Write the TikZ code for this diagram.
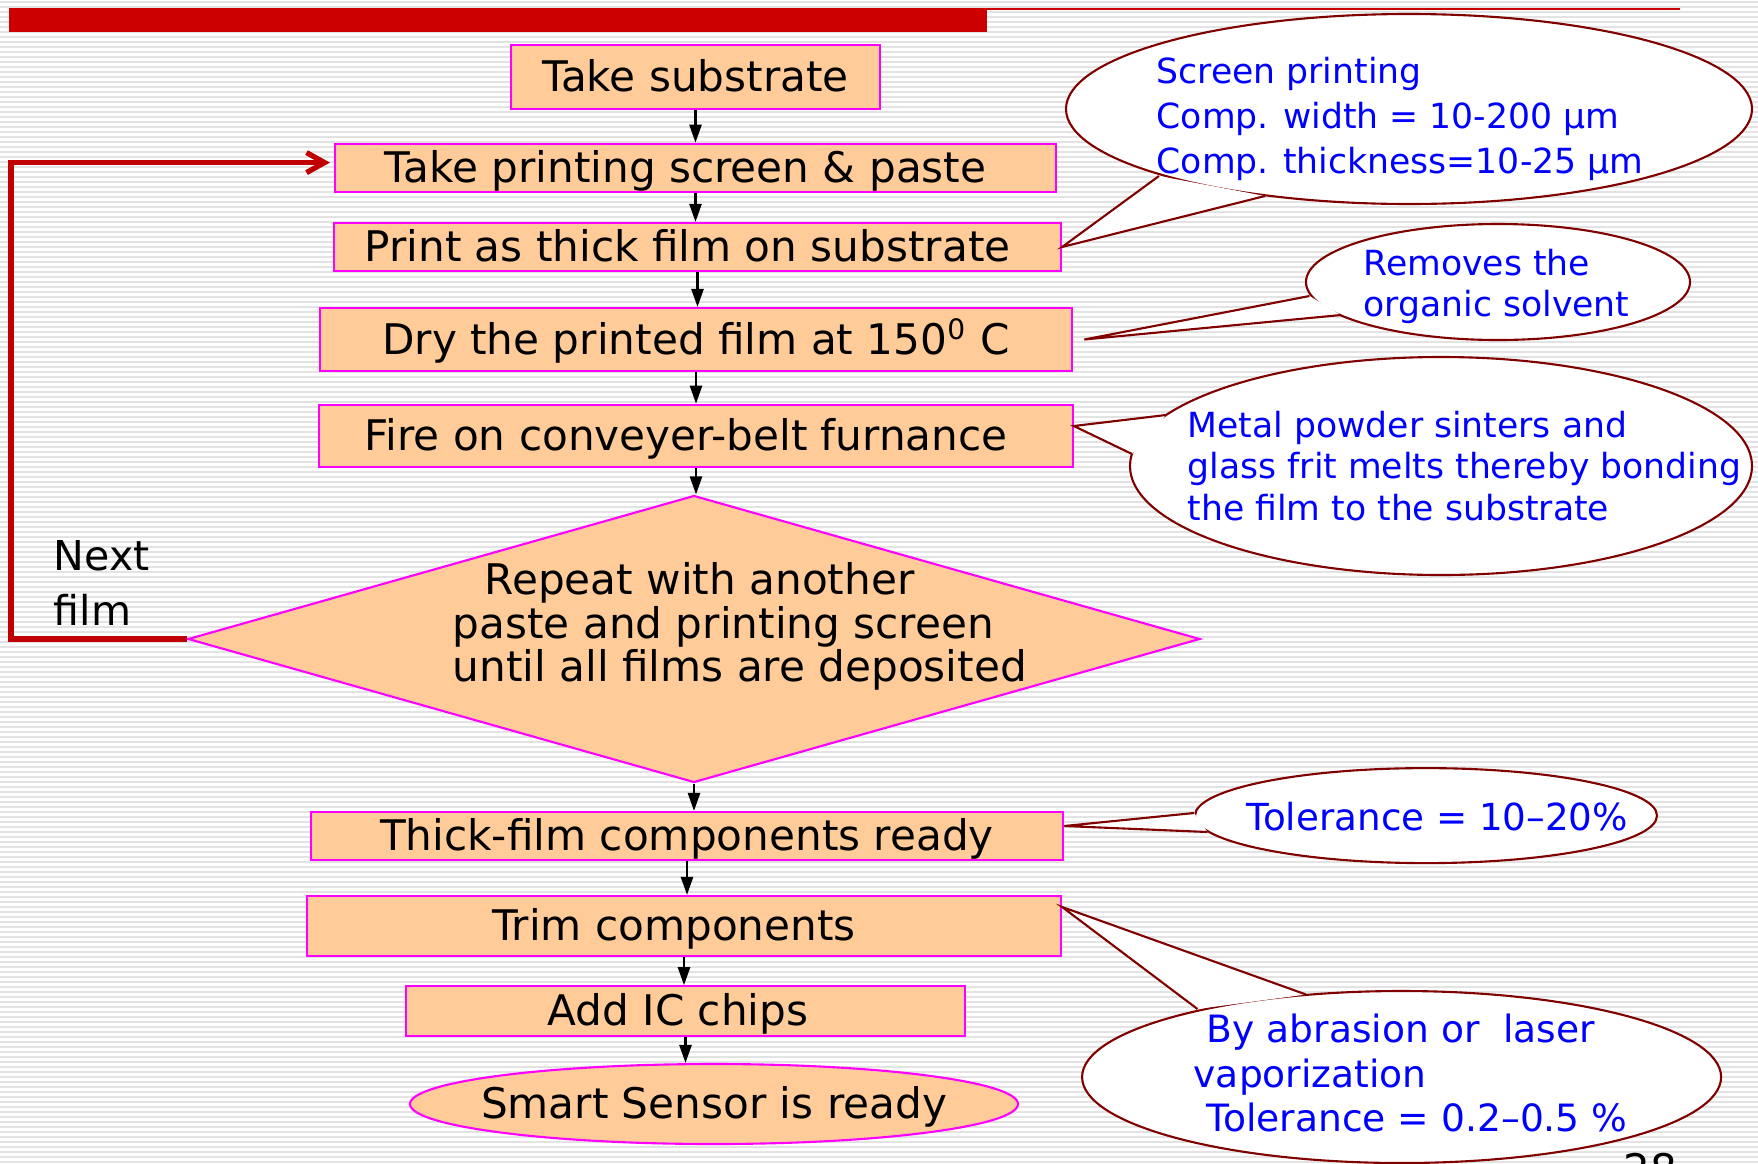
\documentclass[tikz,border=0pt]{standalone}
\usepackage{fontspec}
\setmainfont{DejaVu Sans}
\usetikzlibrary{arrows.meta}
\usetikzlibrary{positioning}
\usetikzlibrary{shapes.geometric}
\definecolor{peach}{HTML}{FFCC99}
\definecolor{edgepink}{HTML}{FF00FF}
\definecolor{barred}{HTML}{CC0000}
\definecolor{loopred}{HTML}{C00000}
\definecolor{darkmaroon}{HTML}{800000}
\definecolor{noteblue}{HTML}{0000FF}

\begin{document}
\begin{tikzpicture}[
    procbox/.style={rectangle, draw=edgepink, fill=peach, line width=0.6pt,
      inner sep=0pt, text height=1.05em, text depth=0.2em,
      font=\fontsize{12}{12.4}\selectfont},
    decision/.style={diamond, draw=edgepink, fill=peach, line width=0.6pt,
      inner sep=0pt, minimum width=10.12cm, minimum height=2.87cm},
    finish/.style={ellipse, draw=edgepink, fill=peach, line width=0.6pt,
      inner sep=0pt, text height=1.05em, text depth=0.2em,
      font=\fontsize{12}{12.4}\selectfont},
    bubble/.style={ellipse, draw=darkmaroon, fill=white, line width=0.6pt,
      inner sep=0pt},
    tail/.style={draw=darkmaroon, line width=0.6pt},
    note/.style={text=noteblue, align=left, inner sep=0pt, anchor=west,
      font=\fontsize{9.85}{12.8}\selectfont},
    flow/.style={-{Triangle[length=1.8mm, width=1.2mm]}, line width=0.7pt},
    loopback/.style={-{Straight Barb[length=1.8mm, width=2.0mm]},
      line width=1.5pt, draw=loopred, shorten >=0.4mm},
    stripe/.style={draw=gray!22, line width=0.5pt},
  ]

  \useasboundingbox (0,0) rectangle (17.58,-11.63);

  % Ruled background and title bar
  \fill[white] (0,0) rectangle (17.58,-11.63);
  \foreach \i in {0,...,232}
    \draw[stripe] (0,{-0.05*\i-0.02}) -- (17.58,{-0.05*\i-0.02});
  \fill[barred] (0.09,-0.08) rectangle (9.87,-0.32);
  \draw[barred, line width=0.6pt] (9.87,-0.09) -- (16.80,-0.09);

  % Process steps, top to bottom
  \node[procbox, minimum width=3.69cm, minimum height=0.64cm]  (sub)    at (6.955,-0.77)  {Take substrate};
  \node[procbox, minimum width=7.21cm, minimum height=0.485cm] (screen) at (6.955,-1.68)  {Take printing screen \& paste\hspace*{0.2cm}};
  \node[procbox, minimum width=7.27cm, minimum height=0.48cm]  (print)  at (6.975,-2.47)  {Print as thick film on substrate\hspace*{0.2cm}};
  \node[procbox, minimum width=7.525cm, minimum height=0.63cm] (dry)    at (6.96,-3.395)  {Dry the printed film at 150\textsuperscript{0} C};
  \node[procbox, minimum width=7.535cm, minimum height=0.625cm](fire)   at (6.96,-4.36)   {Fire on conveyer-belt furnance\hspace*{0.2cm}};
  \node[decision] (rep) at (6.94,-6.39) {};
  \node[anchor=west, align=left, inner sep=0pt,
    font=\fontsize{12}{12.4}\selectfont] (reptext) at (4.52,-6.265)
    {\hspace*{0.32cm}Repeat with another\\paste and printing screen\\until all films are deposited};
  \node[procbox, minimum width=7.525cm, minimum height=0.48cm] (ready)  at (6.87,-8.36)   {Thick-film components ready};
  \node[procbox, minimum width=7.54cm, minimum height=0.60cm]  (trim)   at (6.84,-9.26)   {Trim components\hspace*{0.2cm}};
  \node[procbox, minimum width=5.59cm, minimum height=0.495cm] (chips)  at (6.855,-10.11) {Add IC chips\hspace*{0.15cm}};
  \node[finish, minimum width=6.08cm, minimum height=0.80cm]   (sensor) at (7.14,-11.04)  {\makebox[0pt]{Smart Sensor is ready}};

  \draw[flow] (sub.south)    -- (sub.south |- screen.north);
  \draw[flow] (screen.south) -- (screen.south |- print.north);
  \draw[flow] (print.south)  -- (print.south |- dry.north);
  \draw[flow] (dry.south)    -- (dry.south |- fire.north);
  \draw[flow] (fire.south)   -- (fire.south |- rep.north);
  \draw[flow] (rep.south)    -- (rep.south |- ready.north);
  \draw[flow] (ready.south)  -- (ready.south |- trim.north);
  \draw[flow] (trim.south)   -- (trim.south |- chips.north);
  \draw[flow] (chips.south)  -- (chips.south |- sensor.north);

  % Loop back for the next film
  \coordinate (turn) at (0.11,-1.626);
  \draw[loopback] (rep.west) -| (turn) -- (screen.west |- turn);
  \node[anchor=west, align=left, inner sep=0pt,
    font=\fontsize{11.7}{15.6}\selectfont] (next) at (0.53,-5.83) {Next\\film};

  % Callouts
  \node[bubble, minimum width=6.86cm, minimum height=1.90cm] (scrn) at (14.09,-1.09) {};
  \fill[white] (11.59,-1.76) -- (print.east) -- (12.65,-1.96) -- cycle;
  \draw[tail] (11.59,-1.76) -- (print.east) -- (12.65,-1.96);
  \node[note] (scrntext) at (11.56,-1.185)
    {Screen printing\\Comp. width = 10-200 µm\\Comp. thickness=10-25 µm};

  \node[bubble, minimum width=3.84cm, minimum height=1.16cm] (solv) at (14.98,-2.82) {};
  \fill[white] (13.095,-2.96) -- ([xshift=1.1mm]dry.east) -- (13.41,-3.15) -- cycle;
  \draw[tail] (13.095,-2.96) -- ([xshift=1.1mm]dry.east) -- (13.41,-3.15);
  \node[note, font=\fontsize{9.85}{11.8}\selectfont] (solvtext) at (13.63,-2.865)
    {Removes the\\organic solvent};

  \node[bubble, minimum width=6.22cm, minimum height=2.18cm] (sint) at (14.41,-4.66) {};
  \fill[white] (11.66,-4.15) -- ([yshift=1mm]fire.east) -- (11.32,-4.54) -- cycle;
  \draw[tail] (11.66,-4.15) -- ([yshift=1mm]fire.east) -- (11.32,-4.54);
  \node[note, font=\fontsize{9.85}{11.8}\selectfont] (sinttext) at (11.87,-4.66)
    {Metal powder sinters and\\glass frit melts thereby bonding\\the film to the substrate};

  \node[bubble, minimum width=4.62cm, minimum height=0.95cm] (tolr) at (14.26,-8.156) {};
  \fill[white] (11.94,-8.13) -- ([yshift=1mm]ready.east) -- (12.075,-8.32) -- cycle;
  \draw[tail] (11.94,-8.13) -- ([yshift=1mm]ready.east) -- (12.075,-8.32);
  \node[note, font=\fontsize{10.6}{12.8}\selectfont] (tolrtext) at (12.46,-8.17) {Tolerance = 10--20\%};

  \node[bubble, minimum width=6.39cm, minimum height=1.72cm] (abr) at (14.016,-10.77) {};
  \fill[white] (11.975,-10.09) -- ([yshift=-1.2mm]trim.north east) -- (13.06,-9.945) -- cycle;
  \draw[tail] (11.975,-10.09) -- ([yshift=-1.2mm]trim.north east) -- (13.06,-9.945);
  \node[note, font=\fontsize{10.7}{12.7}\selectfont] (abrtext) at (11.93,-10.73)
    {\hspace*{0.13cm}By abrasion or\ \ laser\\vaporization\\\hspace*{0.13cm}Tolerance = 0.2--0.5 \%};

  % Slide number
  \node[anchor=base, inner sep=0pt, font=\fontsize{12}{14}\selectfont] (pnum) at (16.5,-11.84) {28};

\end{tikzpicture}
\end{document}
